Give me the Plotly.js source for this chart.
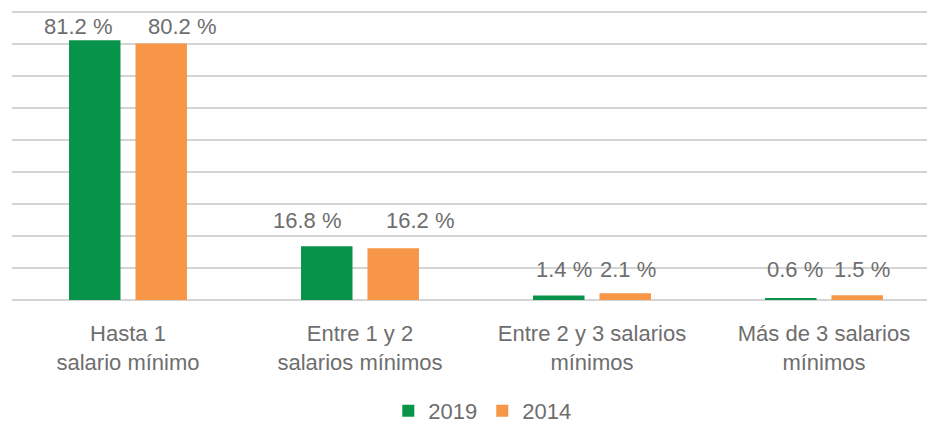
<!DOCTYPE html>
<html>
<head>
<meta charset="utf-8">
<script src="https://cdn.plot.ly/plotly-3.0.1.min.js"></script>
<style>html,body{margin:0;padding:0;background:#fff;}#chart{width:927px;height:428px;}</style>
</head>
<body>
<div id="chart"></div>
<script>
// Data
const categories = ["Hasta 1<br>salario mínimo", "Entre 1 y 2<br>salarios mínimos", "Entre 2 y 3 salarios<br>mínimos", "Más de 3 salarios<br>mínimos"];
const series2019 = [81.2, 16.8, 1.4, 0.6];
const series2014 = [80.2, 16.2, 2.1, 1.5];
const seriesNames = ["2019", "2014"];

// Styles
const colors = ["#07944a", "#f79646"];
const textColor = "#6e6e6e";
const fontFam = "'Liberation Sans', Arial, sans-serif";
const labelXShift2019 = [-50, -53, -28, -29];
const labelXShift2014 = [54, 60, 36, 38];
const labelYShift = [-1, 11, 9, 11];

const traces = [
  {type: "bar", name: seriesNames[0], x: categories, y: series2019, marker: {color: colors[0]}, hoverinfo: "none"},
  {type: "bar", name: seriesNames[1], x: categories, y: series2014, marker: {color: colors[1]}, hoverinfo: "none"}
];

const annotations = [];
categories.forEach((c, i) => {
  const yTop = Math.max(series2019[i], series2014[i]);
  [[series2019, labelXShift2019], [series2014, labelXShift2014]].forEach(([s, xs]) => {
    annotations.push({
      x: c, y: yTop, xref: "x", yref: "y",
      text: s[i].toFixed(1) + " %",
      showarrow: false, xanchor: "center", yanchor: "bottom",
      xshift: xs[i], yshift: labelYShift[i],
      font: {family: fontFam, size: 22, color: textColor}
    });
  });
});

const layout = {
  width: 927, height: 428,
  margin: {l: 12, r: 0, t: 9, b: 128},
  paper_bgcolor: "#fff", plot_bgcolor: "#fff",
  barmode: "group", bargap: 0.427, bargroupgap: 0.2256,
  showlegend: true,
  legend: {orientation: "h", x: 0.514, xanchor: "center", xref: "paper",
           yref: "container", y: 0.04, yanchor: "middle",
           font: {family: fontFam, size: 22, color: textColor}, traceorder: "normal"},
  xaxis: {type: "category", range: [-0.5, 3.444], showgrid: false, showline: false, zeroline: false,
          ticks: "", ticklabelstandoff: 18, automargin: false,
          tickfont: {family: fontFam, size: 22, color: textColor}},
  yaxis: {range: [0, 91], tickvals: [0, 10, 20, 30, 40, 50, 60, 70, 80, 90], showticklabels: false, showgrid: true,
          gridcolor: "#d4d4d4", gridwidth: 1.5, zeroline: true, zerolinecolor: "#d4d4d4",
          zerolinewidth: 1.5, showline: false, ticks: "", automargin: false},
  annotations: annotations
};

Plotly.newPlot("chart", traces, layout, {staticPlot: true, displayModeBar: false});
</script>
</body>
</html>
